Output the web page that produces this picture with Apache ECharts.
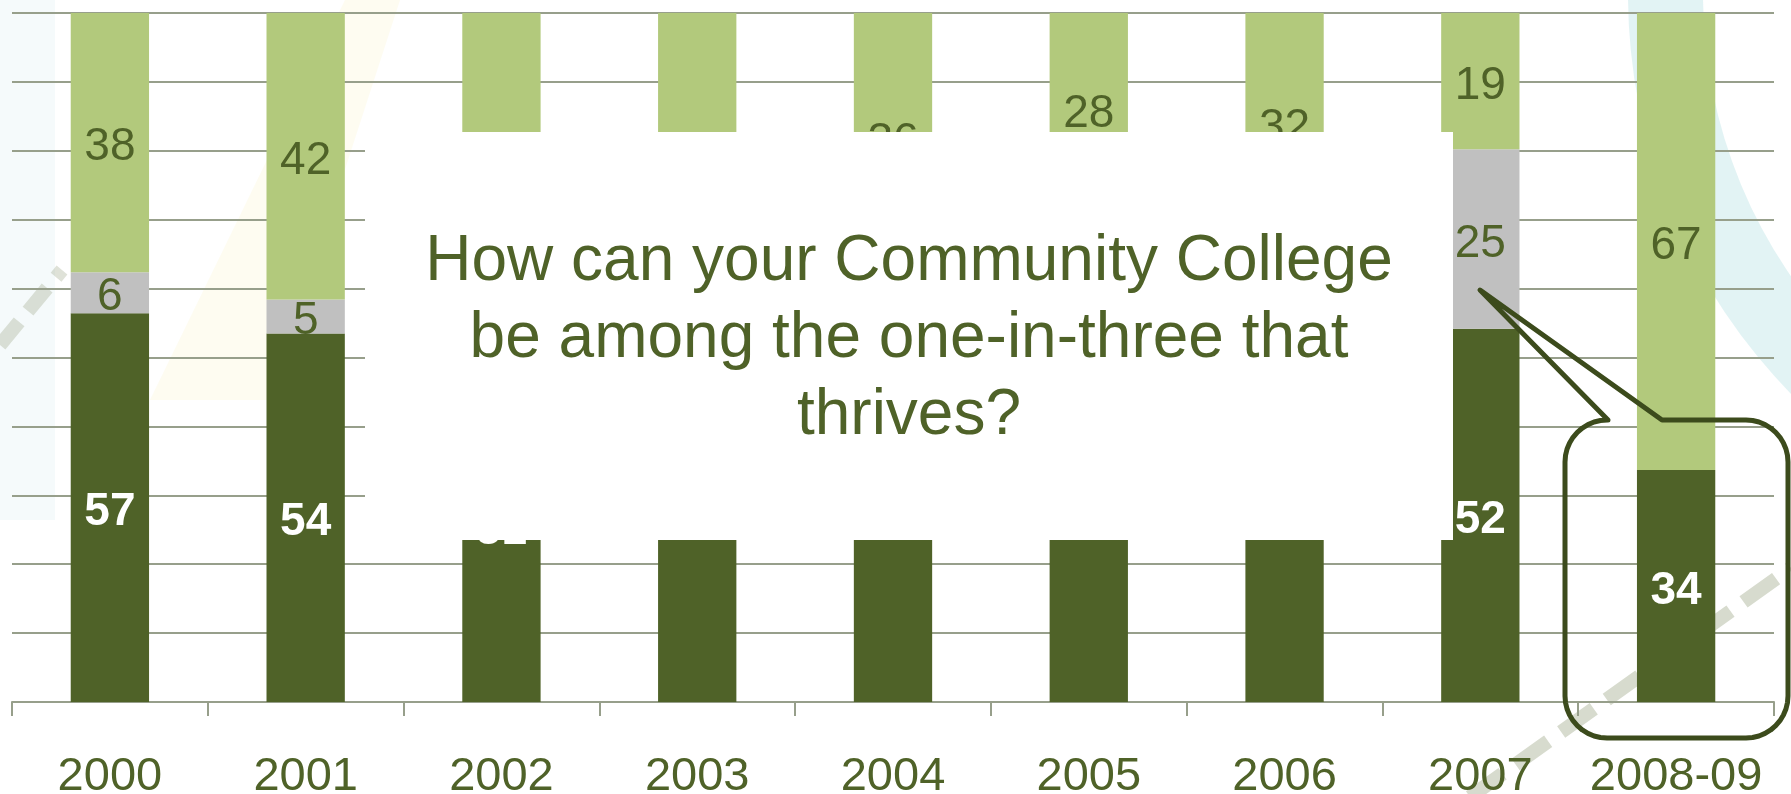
<!DOCTYPE html>
<html><head><meta charset="utf-8">
<script src="https://cdn.jsdelivr.net/npm/echarts@6/dist/echarts.min.js"></script>
<style>html,body{margin:0;padding:0;background:#fff;}#c{width:1791px;height:794px;}</style>
</head><body><div id="c"></div>
<script>
// Data (raw labelled values; bars are drawn as 100%-stacked shares)
const categories = ['2000','2001','2002','2003','2004','2005','2006','2007','2008-09'];
const darkValues  = [57, 54, 51, 53, 55, 56, 54, 52, 34];
const greyValues  = [6, 5, 7, 6, 9, 16, 14, 25, 0];
const lightValues = [38, 42, 42, 41, 36, 28, 32, 19, 67];
const calloutText = 'How can your Community College\nbe among the one-in-three that\nthrives?';

const FONT = '"Liberation Sans", Arial, sans-serif';
const OLIVE = '#4F6228';
const totals = categories.map((_, i) => darkValues[i] + greyValues[i] + lightValues[i]);
const toPct = arr => arr.map((v, i) => ({ value: v / totals[i] * 100, raw: v }));
const labelFmt = p => (p.data.raw ? String(p.data.raw) : '');

// rounded-rectangle callout outline with a wedge pointing at the 2007 bar
function calloutPoints(x1, y1, x2, y2, r, wa, wb, tip) {
  const pts = [];
  const arc = (cx, cy, a0, a1) => {
    for (let k = 0; k <= 10; k++) {
      const a = a0 + (a1 - a0) * k / 10;
      pts.push([cx + r * Math.cos(a), cy + r * Math.sin(a)]);
    }
  };
  pts.push([x1 + r, y1], [wa, y1], tip, [wb, y1], [x2 - r, y1]);
  arc(x2 - r, y1 + r, -Math.PI / 2, 0);
  arc(x2 - r, y2 - r, 0, Math.PI / 2);
  arc(x1 + r, y2 - r, Math.PI / 2, Math.PI);
  arc(x1 + r, y1 + r, Math.PI, Math.PI * 1.5);
  return pts;
}

const lbl = (color, bold) => ({ show: true, position: 'inside', offset: [0, 5], formatter: labelFmt,
  color: color, fontWeight: bold ? 'bold' : 'normal', fontSize: 46, fontFamily: FONT });

const chart = echarts.init(document.getElementById('c'), null, { renderer: 'canvas' });
chart.setOption({
  backgroundColor: 'transparent',
  animation: false,
  grid: { left: 12, right: 17, top: 13, bottom: 92, containLabel: false, outerBoundsMode: 'none' },
  xAxis: {
    type: 'category', data: categories,
    axisLine: { show: true, lineStyle: { color: '#979F8B', width: 2 } },
    axisTick: { show: true, length: 14, lineStyle: { color: '#979F8B', width: 2 } },
    axisLabel: { color: OLIVE, fontSize: 47, fontFamily: FONT, margin: 52, interval: 0 }
  },
  yAxis: {
    type: 'value', min: 0, max: 100, interval: 10,
    axisLine: { show: false }, axisTick: { show: false }, axisLabel: { show: false },
    splitLine: { show: true, lineStyle: { color: '#979F8B', width: 2 } }
  },
  series: [
    { name: 'dark', type: 'bar', stack: 's', barWidth: '40%', data: toPct(darkValues),
      itemStyle: { color: '#4F6228' }, label: lbl('#ffffff', true) },
    { name: 'grey', type: 'bar', stack: 's', barWidth: '40%', data: toPct(greyValues),
      itemStyle: { color: '#C0C0C0' }, label: lbl(OLIVE, false) },
    { name: 'light', type: 'bar', stack: 's', barWidth: '40%', data: toPct(lightValues),
      itemStyle: { color: '#B2C97C' }, label: lbl(OLIVE, false) }
  ],
  graphic: [
    // faint slide-background decorations
    { type: 'ring', z: -20, silent: true, shape: { cx: 2200, cy: -6, r: 572, r0: 497 },
      style: { fill: 'rgba(160,215,220,0.30)' } },
    { type: 'polygon', z: -20, silent: true, shape: { points: [[345,0],[400,0],[270,400],[150,400]] },
      style: { fill: 'rgba(250,245,200,0.25)' } },
    { type: 'rect', z: -20, silent: true, shape: { x: 0, y: 0, width: 55, height: 520 },
      style: { fill: 'rgba(200,230,235,0.18)' } },
    { type: 'line', z: -15, silent: true, shape: { x1: 1470, y1: 797, x2: 1791, y2: 568 },
      style: { stroke: 'rgba(150,160,125,0.38)', lineWidth: 14, lineDash: [40, 16] } },
    { type: 'line', z: -15, silent: true, shape: { x1: 0, y1: 345, x2: 62, y2: 270 },
      style: { stroke: 'rgba(150,160,125,0.30)', lineWidth: 14, lineDash: [30, 14] } },
    // white text box
    { type: 'rect', z: 100, silent: true, shape: { x: 365, y: 132, width: 1088, height: 408 },
      style: { fill: '#ffffff' } },
    { type: 'text', z: 101, silent: true, x: 909, y: 339,
      style: { text: calloutText, fill: OLIVE, font: '64px ' + FONT, align: 'center', verticalAlign: 'middle', lineHeight: 77 } },
    // rounded-rect callout around 2008-09
    { type: 'polygon', z: 102, silent: true,
      shape: { points: calloutPoints(1565, 420, 1788, 738, 42, 1608, 1662, [1480, 290]) },
      style: { fill: 'none', stroke: '#3C4B1C', lineWidth: 5, lineJoin: 'round' } }
  ]
});
</script>
</body></html>
